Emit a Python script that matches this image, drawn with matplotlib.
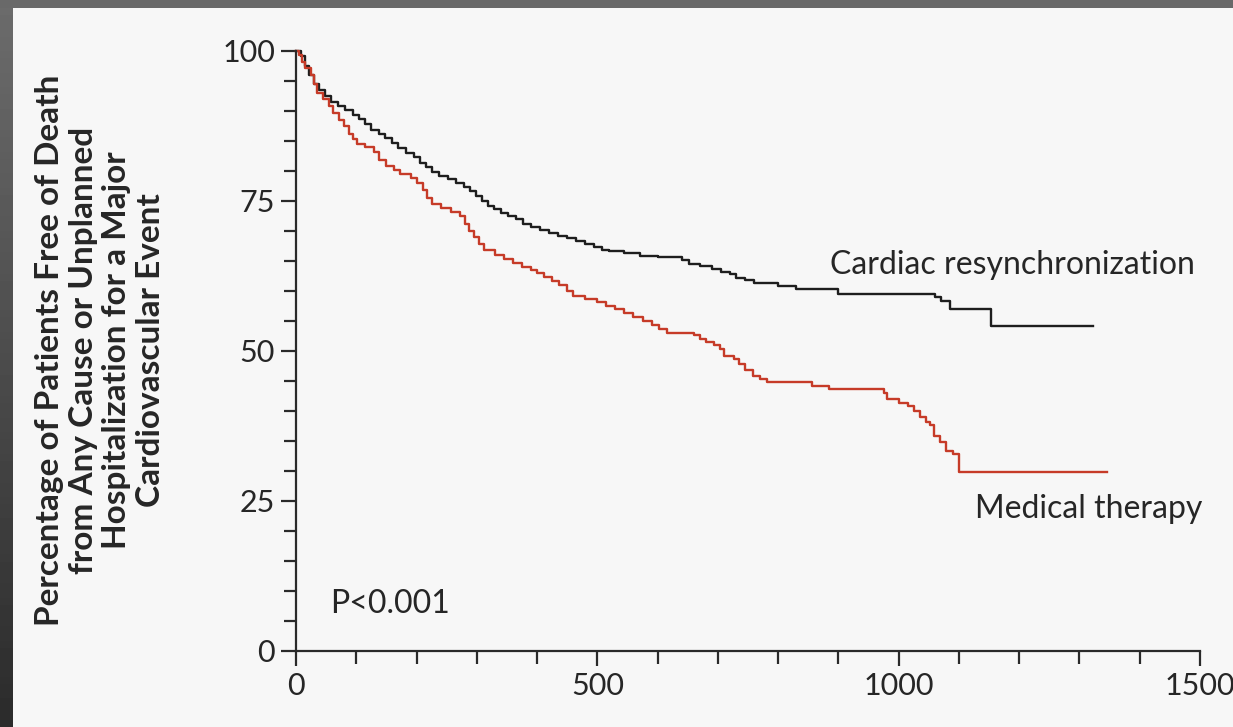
import numpy as np
import matplotlib.pyplot as plt
from matplotlib.patches import Rectangle

# Kaplan-Meier step points (days, % event free)
crt_days = [0, 8, 15, 22, 30, 38, 48, 58, 70, 82, 95, 105, 115, 125, 138, 148, 160, 170,
            182, 195, 205, 215, 225, 238, 252, 265, 278, 288, 298, 308, 318, 328, 340, 352,
            365, 377, 390, 405, 420, 435, 450, 465, 480, 495, 508, 520, 545, 570, 600, 640,
            652, 670, 690, 705, 720, 730, 745, 760, 800, 830, 900, 1060, 1070, 1085, 1154, 1323]
crt_surv = [100, 99.2, 97.5, 96, 94.5, 93.5, 92.5, 91.5, 90.8, 90.2, 89.3, 88.6, 87.8, 86.8,
            86.2, 85.5, 84.6, 83.8, 83.0, 82.3, 81.4, 80.6, 79.8, 79.2, 78.6, 78.0, 77.3, 76.6,
            75.8, 75.0, 74.2, 73.6, 73.0, 72.5, 72.0, 71.2, 70.6, 70.2, 69.6, 69.2, 68.8, 68.3,
            67.8, 67.3, 66.8, 66.6, 66.3, 65.8, 65.6, 65.2, 64.5, 64.2, 63.7, 63.2, 62.8, 62.2,
            61.8, 61.4, 60.9, 60.3, 59.5, 59.0, 58.3, 57.0, 54.2, 54.2]

med_days = [0, 5, 10, 15, 25, 30, 35, 45, 55, 62, 72, 80, 88, 95, 102, 115, 130, 137, 150,
            162, 172, 190, 200, 210, 218, 225, 240, 258, 272, 280, 287, 295, 303, 312, 330,
            345, 360, 375, 390, 400, 412, 425, 437, 450, 460, 480, 500, 515, 530, 545, 560,
            575, 590, 602, 615, 660, 670, 680, 693, 703, 710, 726, 735, 745, 758, 770, 782,
            856, 885, 975, 980, 1000, 1015, 1025, 1035, 1045, 1052, 1058, 1068, 1078, 1090,
            1100, 1345]
med_surv = [100, 99.3, 98.2, 97.2, 96.0, 94.5, 93.0, 92.0, 90.8, 89.6, 88.5, 87.5, 86.2, 85.3,
            84.5, 84.0, 83.2, 81.8, 80.9, 80.2, 79.5, 78.8, 78.0, 76.8, 75.5, 74.5, 73.8, 73.2,
            72.5, 71.2, 70.0, 69.0, 67.8, 66.8, 66.0, 65.4, 64.6, 64.0, 63.5, 63.0, 62.3, 61.6,
            61.0, 60.0, 59.2, 58.6, 58.1, 57.5, 57.0, 56.3, 55.6, 55.0, 54.3, 53.6, 53.0, 52.7,
            52.0, 51.5, 51.0, 50.3, 49.2, 48.6, 47.8, 46.8, 45.9, 45.4, 44.9, 44.2, 43.6, 43.0,
            42.0, 41.3, 40.8, 40.0, 39.0, 38.2, 37.6, 35.8, 34.8, 33.4, 32.8, 29.9, 29.9]

y_ticks = [0, 25, 50, 75, 100]
x_ticks = [0, 500, 1000, 1500]
ylabel = ("Percentage of Patients Free of Death\nfrom Any Cause or Unplanned\n"
          "Hospitalization for a Major\nCardiovascular Event")

plt.rcParams['font.family'] = ['Lato', 'DejaVu Sans']
txt = '#262626'

fig = plt.figure(figsize=(12.33, 7.27), dpi=100, facecolor='#696969')
# light panel and dark left strip of the slide
fig.patches.append(Rectangle((13 / 1233, 0), 1, 1 - 8 / 727, transform=fig.transFigure,
                             facecolor='#f7f7f7', edgecolor='none', zorder=-10))
strip = fig.add_axes([0, 0, 13 / 1233, 1 - 8 / 727])
strip.imshow(np.linspace(0.42, 0.17, 100).reshape(-1, 1), cmap='gray', vmin=0, vmax=1,
             aspect='auto', extent=[0, 1, 0, 1])
strip.axis('off')

ax = fig.add_axes([296 / 1233, 1 - 651 / 727, 904 / 1233, 600 / 727])
ax.set_facecolor('none')
ax.step(crt_days, crt_surv, where='post', color='#1e1e1e', lw=1.7, clip_on=False)
ax.step(med_days, med_surv, where='post', color='#c63b28', lw=1.7, clip_on=False)

ax.set_xlim(0, 1500)
ax.set_ylim(0, 100)
ax.set_xticks(x_ticks)
ax.set_xticks(np.arange(0, 1501, 100), minor=True)
ax.set_yticks(y_ticks)
ax.set_yticks(np.arange(0, 101, 5), minor=True)
for s in ['top', 'right']:
    ax.spines[s].set_visible(False)
for s in ['left', 'bottom']:
    ax.spines[s].set_linewidth(1.6)
    ax.spines[s].set_color('#2a2a2a')
ax.tick_params(which='major', length=11, width=1.6, color='#2a2a2a', labelsize=22,
               labelcolor=txt, pad=4)
ax.tick_params(which='minor', length=9, width=1.6, color='#2a2a2a')

ax.text(886, 64.3, 'Cardiac resynchronization', fontsize=23, color=txt, va='center')
ax.text(1127, 23.7, 'Medical therapy', fontsize=23, color=txt, va='center')
ax.text(56, 7.8, 'P<0.001', fontsize=23, color=txt, va='center')

fig.text(100 / 1233, 1 - 350 / 727, ylabel, rotation=90, ha='center', va='center',
         fontsize=24, fontweight='bold', color=txt, linespacing=1.2, multialignment='center')

fig.savefig('out.png', dpi=100, facecolor=fig.get_facecolor())
